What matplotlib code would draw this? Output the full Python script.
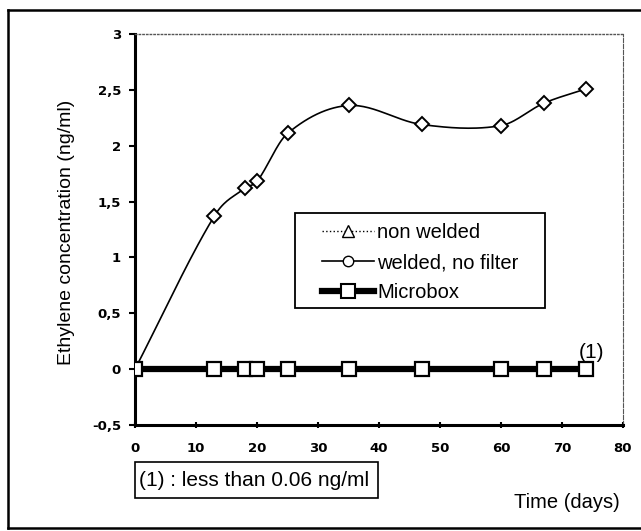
import numpy as np
import matplotlib.pyplot as plt
from matplotlib.lines import Line2D
from matplotlib.patches import Rectangle

plt.rcParams['font.family'] = ['Liberation Sans', 'DejaVu Sans']

days = [0, 13, 18, 20, 25, 35, 47, 60, 67, 74]
welded = [0, 1.37, 1.62, 1.68, 2.11, 2.36, 2.19, 2.18, 2.38, 2.51]
non_welded = [0, 0, 0, 0, 0, 0, 0, 0, 0, 0]
microbox = [0, 0, 0, 0, 0, 0, 0, 0, 0, 0]

yticks = [-0.5, 0, 0.5, 1, 1.5, 2, 2.5, 3]
ytick_labels = ['-0,5', '0', '0,5', '1', '1,5', '2', '2,5', '3']
xticks = [0, 10, 20, 30, 40, 50, 60, 70, 80]

W, H = 641, 531


def smooth(x, y, n=30):
    # cubic hermite with finite-difference slopes, only to draw the line
    x = np.asarray(x, float)
    y = np.asarray(y, float)
    d = np.zeros(len(x))
    d[0] = (y[1] - y[0]) / (x[1] - x[0])
    d[-1] = (y[-1] - y[-2]) / (x[-1] - x[-2])
    d[1:-1] = (y[2:] - y[:-2]) / (x[2:] - x[:-2])
    xs, ys = [], []
    for i in range(len(x) - 1):
        h = x[i + 1] - x[i]
        t = np.linspace(0, 1, n)
        h00 = 2 * t ** 3 - 3 * t ** 2 + 1
        h10 = t ** 3 - 2 * t ** 2 + t
        h01 = -2 * t ** 3 + 3 * t ** 2
        h11 = t ** 3 - t ** 2
        xs.extend(x[i] + t * h)
        ys.extend(h00 * y[i] + h10 * h * d[i] + h01 * y[i + 1]
                  + h11 * h * d[i + 1])
    return xs, ys


def fx(px):
    return px / W


def fy(py):
    return 1 - py / H


fig = plt.figure(figsize=(6.41, 5.31), dpi=100)
ax = fig.add_axes([fx(135), fy(425), fx(623) - fx(135), fy(34) - fy(425)])

ax.plot(days, non_welded, color='black', lw=1, ls=':', marker='^',
        ms=5, mfc='white', mec='black', zorder=2)
sx, sy = smooth(days, welded)
ax.plot(sx, sy, color='black', lw=1.2, zorder=3)
ax.plot(days, welded, ls='none', marker='D', ms=7, mfc='white', mec='black',
        mew=1.4, zorder=4)
ax.plot(days, microbox, color='black', lw=4.5, marker='s', ms=9.5,
        mfc='white', mec='black', mew=1.6, zorder=5)

ax.set_xlim(0, 80)
ax.set_ylim(-0.5, 3)
ax.set_xticks(xticks)
ax.set_yticks(yticks)
ax.set_yticklabels(ytick_labels)
ax.tick_params(axis='both', labelsize=9.5, width=1.5, length=4, color='black')
ax.tick_params(axis='x', direction='inout', pad=10)
ax.tick_params(axis='y', pad=6)
for lab in ax.get_xticklabels() + ax.get_yticklabels():
    lab.set_fontweight('bold')
    lab.set_family('DejaVu Sans')

ax.spines['left'].set_linewidth(2.2)
ax.spines['bottom'].set_linewidth(2.2)
ax.spines['top'].set_linestyle(':')
ax.spines['top'].set_color('#555555')
ax.spines['top'].set_linewidth(1)
ax.spines['right'].set_linestyle('--')
ax.spines['right'].set_color('#555555')
ax.spines['right'].set_linewidth(0.8)

fig.text(fx(67), fy(232), 'Ethylene concentration (ng/ml)', fontsize=14,
         rotation=90, ha='center', va='center')

handles = [
    Line2D([], [], color='black', lw=1, ls=':', marker='^', ms=8,
           mfc='white', mec='black'),
    Line2D([], [], color='black', lw=1.2, marker='o', ms=7.5,
           mfc='white', mec='black'),
    Line2D([], [], color='black', lw=4.5, marker='s', ms=9.5,
           mfc='white', mec='black', mew=1.5),
]
fig.legend(handles, ['non welded', 'welded, no filter', 'Microbox'],
           loc='upper left', bbox_to_anchor=(fx(322), fy(223)),
           bbox_transform=fig.transFigure, fontsize=14.5, frameon=False,
           handlelength=2.6, handletextpad=0.15, labelspacing=0.55,
           borderpad=0, borderaxespad=0)
fig.add_artist(Rectangle((fx(295), fy(308)), fx(545) - fx(295),
                         fy(213) - fy(308), transform=fig.transFigure,
                         fill=False, ec='black', lw=1.3))

ax.text(72.7, 0.15, '(1)', fontsize=15, ha='left', va='center')

fig.add_artist(Rectangle((fx(135), fy(498)), fx(378) - fx(135),
                         fy(462) - fy(498), transform=fig.transFigure,
                         fill=False, ec='black', lw=1.2))
fig.text(fx(139), fy(480), '(1) : less than 0.06 ng/ml', fontsize=15,
         ha='left', va='center')
fig.text(fx(567), fy(503), 'Time (days)', fontsize=14.5, ha='center',
         va='center')

# outer frame of the scanned figure
for xs, ys in [([8, W], [10, 10]), ([8, 8], [10, 528]), ([8, W], [528, 528])]:
    fig.add_artist(Line2D([fx(v) for v in xs], [fy(v) for v in ys],
                          color='black', lw=1.8, transform=fig.transFigure))

fig.savefig('out.png', dpi=100)
plt.close(fig)
